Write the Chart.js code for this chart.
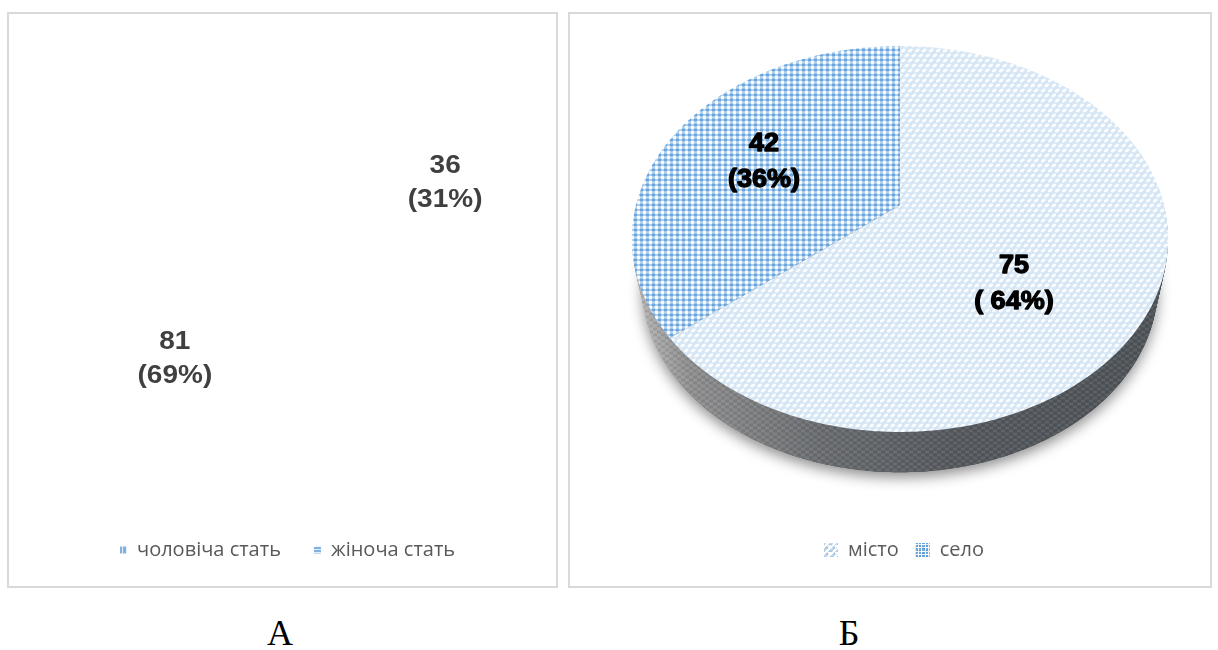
<!DOCTYPE html>
<html lang="uk">
<head>
<meta charset="utf-8">
<title>Розподіл за статтю та місцем проживання</title>
<script src="https://cdn.jsdelivr.net/npm/chart.js@4"></script>
<style>
  html, body { margin: 0; padding: 0; background: #fff; }
  body { position: relative; width: 1218px; height: 650px; overflow: hidden; }
  .panel { position: absolute; box-sizing: border-box; border: 2px solid #d9d9d9; background: #fff; top: 12px; height: 576px; }
  #panelA { left: 7px; width: 551px; }
  #panelB { left: 568px; width: 644px; }
  canvas { position: absolute; }
  .caption { position: absolute; top: 613px; font: 36px "Liberation Serif", serif; color: #000; transform: translateX(-50%); line-height: 40px; }
</style>
</head>
<body>
<div class="panel" id="panelA"></div>
<div class="panel" id="panelB"></div>
<canvas id="chartA" width="446" height="574" style="left:87px;top:13px"></canvas>
<canvas id="chartB" width="614" height="574" style="left:597px;top:13px"></canvas>
<div class="caption" style="left:280px">А</div>
<div class="caption" style="left:849px">Б</div>
<script>
// Sample by sex
const genderCategories = ['чоловіча стать', 'жіноча стать'];
const genderCounts = [81, 36];
const genderPercentText = ['(69%)', '(31%)'];

// Sample by place of residence
const placeCategories = ['місто', 'село'];
const placeCounts = [75, 42];
const placePercentText = ['( 64%)', '(36%)'];

// Small repeating tiles used for fills and legend keys
function tile(w, h, paint) {
  const c = document.createElement('canvas');
  c.width = w; c.height = h;
  paint(c.getContext('2d'));
  return c;
}
const ctxOf = id => document.getElementById(id).getContext('2d');

// White beads running diagonally over pale blue
function cityTile() {
  return tile(7, 10, g => {
    g.fillStyle = '#d6e6f4'; g.fillRect(0, 0, 7, 10);
    g.fillStyle = '#fbfdff';
    [[1.75, 2.5], [5.25, 7.5], [-1.75, 7.5], [8.75, 2.5], [1.75, 12.5], [5.25, -2.5]].forEach(([x, y]) => {
      g.beginPath();
      g.ellipse(x, y, 2.6, 1.5, -0.6, 0, Math.PI * 2);
      g.fill();
    });
  });
}
// Blue dots on a pale plaid
function villageTile() {
  return tile(6, 5, g => {
    g.fillStyle = '#f7fafd'; g.fillRect(0, 0, 6, 5);
    g.fillStyle = '#bcd6ee'; g.fillRect(1, 0, 3, 5); g.fillRect(0, 1, 6, 2);
    g.fillStyle = '#6aa5de';
    g.beginPath();
    g.ellipse(2.5, 2, 2, 1.4, 0, 0, Math.PI * 2);
    g.fill();
  });
}
function sideTile() {
  return tile(8, 6, g => {
    g.clearRect(0, 0, 8, 6);
    g.fillStyle = 'rgba(255,255,255,0.07)';
    g.fillRect(0, 0, 4, 2); g.fillRect(4, 3, 4, 2);
    g.fillStyle = 'rgba(0,0,0,0.07)';
    g.fillRect(4, 0, 4, 2); g.fillRect(0, 3, 4, 2);
  });
}
const keyBars = tile(4, 4, g => { g.fillStyle = '#7fb2e2'; g.fillRect(0, 0, 4, 4); g.fillStyle = '#e3eef8'; g.fillRect(3, 0, 1, 4); });
const keyRows = tile(4, 3, g => { g.fillStyle = '#7fb2e2'; g.fillRect(0, 0, 4, 2); g.fillStyle = '#e3eef8'; g.fillRect(0, 2, 4, 1); });
const keyCity = tile(7, 7, g => {
  g.fillStyle = '#fff'; g.fillRect(0, 0, 7, 7);
  g.fillStyle = '#bcd8f2';
  for (let i = 0; i < 7; i++) { g.fillRect(i, 6 - i, 3, 2); }
});
const keyVillage = tile(7, 7, g => {
  g.fillStyle = '#fff'; g.fillRect(0, 0, 7, 7);
  g.fillStyle = '#64a5e0'; g.fillRect(0, 0, 6, 6);
  g.fillStyle = '#fff'; g.fillRect(2, 0, 1, 6); g.fillRect(0, 2, 6, 1);
});

function legendOptions(keys, itemGap, boxWidth, align) {
  return {
    display: true,
    position: 'bottom',
    align: align,
    labels: {
      boxWidth: boxWidth,
      boxHeight: boxWidth,
      padding: itemGap,
      color: '#595959',
      font: { family: '"Open Sans"', size: 20 },
      generateLabels: chart => chart.data.labels.map((text, i) => ({
        text,
        index: i,
        fillStyle: chart.ctx.createPattern(keys[i], 'repeat'),
        strokeStyle: 'rgba(0,0,0,0)',
        lineWidth: 0,
        fontColor: '#595959'
      }))
    }
  };
}

// Two-line value labels for the flat chart, placed along the slice bisector
const flatLabels = {
  id: 'flatLabels',
  afterDraw(chart) {
    const g = chart.ctx;
    const arcs = chart.getDatasetMeta(0).data;
    const nudges = [{ x: -3, y: -3 }, { x: 3, y: 3 }];
    g.save();
    g.fillStyle = '#404040';
    g.textAlign = 'center';
    g.textBaseline = 'middle';
    g.font = 'bold 25px "Liberation Sans"';
    arcs.forEach((arc, i) => {
      const mid = (arc.startAngle + arc.endAngle) / 2;
      const r = arc.outerRadius * 0.72;
      const x = arc.x + r * Math.cos(mid) + nudges[i].x;
      const y = arc.y + r * Math.sin(mid) + nudges[i].y;
      g.save();
      g.translate(x, y);
      g.scale(1.12, 1);
      g.fillText(String(genderCounts[i]), 0, -17);
      g.fillText(genderPercentText[i], 0, 17);
      g.restore();
    });
    g.restore();
  }
};

new Chart(ctxOf('chartA'), {
  type: 'pie',
  data: {
    labels: genderCategories,
    datasets: [{ data: genderCounts, backgroundColor: '#ffffff', borderWidth: 0 }]
  },
  options: {
    responsive: false,
    animation: false,
    rotation: 360 * genderCounts[1] / (genderCounts[0] + genderCounts[1]),
    layout: { padding: { top: 22, bottom: 17 } },
    plugins: {
      legend: legendOptions([keyBars, keyRows], 33, 7, 'start'),
      tooltip: { enabled: false }
    }
  },
  plugins: [flatLabels]
});

// Tilted disc: the unit circle goes through a perspective map so the near half is larger
const DISC = { cx: 303, cy: 192, ax: 264, ay: 187, k: 0.176, rimScale: 0.96, rimDrop: 48, ellipseCy: 226 };

function project(angle, r) {
  const ux = r * Math.cos(angle);
  const uy = r * Math.sin(angle);
  const w = 1 - DISC.k * uy;
  return { x: DISC.cx + DISC.ax * ux / w, y: DISC.cy + DISC.ay * uy / w };
}
function traceRim(g, from, to, withCentre) {
  const steps = Math.max(8, Math.ceil((to - from) * 90));
  if (withCentre) { const c = project(0, 0); g.moveTo(c.x, c.y); }
  for (let s = 0; s <= steps; s++) {
    const p = project(from + (to - from) * s / steps, 1);
    if (s === 0 && !withCentre) g.moveTo(p.x, p.y); else g.lineTo(p.x, p.y);
  }
  g.closePath();
}

const tiltedPie = {
  id: 'tiltedPie',
  beforeDatasetsDraw(chart) {
    const g = chart.ctx;
    const arcs = chart.getDatasetMeta(0).data;
    const from = arcs[0].startAngle;
    const to = arcs[arcs.length - 1].endAngle;

    const sideFill = g.createLinearGradient(DISC.cx - 268, 0, DISC.cx + 268, 0);
    sideFill.addColorStop(0, '#b4b4b4');
    sideFill.addColorStop(0.1, '#8f8f90');
    sideFill.addColorStop(0.35, '#6a6d70');
    sideFill.addColorStop(0.6, '#565a5f');
    sideFill.addColorStop(1, '#4f5459');

    const layer = (t, style, shadow) => {
      const s = 1 - (1 - DISC.rimScale) * t;
      g.save();
      g.translate(DISC.cx, DISC.ellipseCy + DISC.rimDrop * t);
      g.scale(s, s);
      g.translate(-DISC.cx, -DISC.ellipseCy);
      if (shadow) {
        g.shadowColor = 'rgba(0,0,0,0.45)';
        g.shadowBlur = 14;
        g.shadowOffsetY = 5;
      }
      g.fillStyle = style;
      g.beginPath();
      traceRim(g, from, to, false);
      g.fill();
      g.restore();
    };

    // The rim: a solid stack of shrinking outlines, then a faint weave on top of it
    for (let d = DISC.rimDrop; d >= 1; d--) layer(d / DISC.rimDrop, sideFill, false);
    g.save();
    g.globalCompositeOperation = 'source-atop';
    g.fillStyle = g.createPattern(sideTile(), 'repeat');
    g.fillRect(0, 0, chart.width, chart.height);
    g.restore();
    // soft shadow under the rim
    g.save();
    g.globalCompositeOperation = 'destination-over';
    layer(1, sideFill, true);
    g.restore();

    const fills = [cityTile(), villageTile()];
    arcs.forEach((arc, i) => {
      g.save();
      g.beginPath();
      traceRim(g, arc.startAngle, arc.endAngle, true);
      g.fillStyle = g.createPattern(fills[i], 'repeat');
      g.fill();
      g.restore();
    });

    // value labels
    const nudges = [{ x: -36, y: 29 }, { x: 1, y: 3 }];
    g.save();
    g.fillStyle = '#000';
    g.strokeStyle = '#000';
    g.lineWidth = 1.3;
    g.lineJoin = 'round';
    g.textAlign = 'center';
    g.textBaseline = 'middle';
    g.font = 'bold 25px "Liberation Sans"';
    arcs.forEach((arc, i) => {
      const p = project((arc.startAngle + arc.endAngle) / 2, 0.6);
      g.save();
      g.translate(p.x + nudges[i].x, p.y + nudges[i].y);
      g.scale(1.08, 1);
      [String(placeCounts[i]), placePercentText[i]].forEach((line, n) => {
        const y = n === 0 ? -18 : 18;
        g.fillText(line, 0, y);
        g.strokeText(line, 0, y);
      });
      g.restore();
    });
    g.restore();
    return false;
  }
};

new Chart(ctxOf('chartB'), {
  type: 'pie',
  data: {
    labels: placeCategories,
    datasets: [{ data: placeCounts, backgroundColor: '#dce9f4', borderWidth: 0 }]
  },
  options: {
    responsive: false,
    animation: false,
    layout: { padding: { bottom: 17 } },
    plugins: {
      legend: legendOptions([keyCity, keyVillage], 17, 14, 'center'),
      tooltip: { enabled: false }
    }
  },
  plugins: [tiltedPie]
});
</script>
</body>
</html>
